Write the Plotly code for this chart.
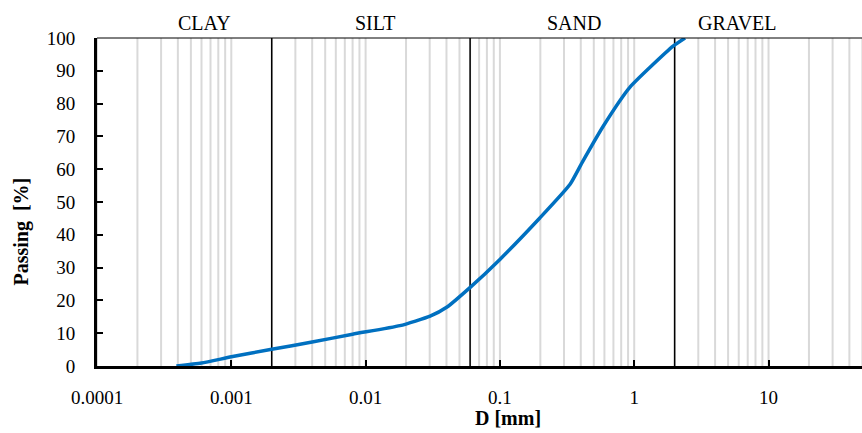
import plotly.graph_objects as go

# Grain size distribution data
diam_mm = [0.00039, 0.0006, 0.001, 0.002, 0.004, 0.008, 0.018, 0.0302, 0.0404,
           0.0598, 0.1, 0.199, 0.333, 0.409, 0.586, 0.93, 1.946, 2.39]
passing = [0.0, 0.9, 2.8, 5.1, 7.3, 9.7, 12.3, 15.2, 18.0,
           23.9, 32.5, 45.2, 55.4, 62.0, 73.0, 85.0, 97.5, 100.0]

tick_vals = [0.0001, 0.001, 0.01, 0.1, 1, 10]
tick_text = ["0.0001", "0.001", "0.01", "0.1", "1", "10"]
class_bounds = [0.002, 0.06, 2]
class_names = ["CLAY", "SILT", "SAND", "GRAVEL"]
class_label_pos = [0.103, 0.363, 0.623, 0.891]  # paper fractions

FONT = "Liberation Serif"

fig = go.Figure()

# minor gray gridlines at 1..9 x each decade
gx, gy = [], []
for e in range(-4, 2):
    for m in range(1, 10):
        v = m * 10.0 ** e
        if v <= 50:
            gx += [v, v, None]
            gy += [0, 100, None]
fig.add_trace(go.Scatter(x=gx, y=gy, mode="lines", line=dict(color="#D9D9D9", width=2),
                         hoverinfo="skip", showlegend=False))

# black class boundary lines
bx, by = [], []
for v in class_bounds:
    bx += [v, v, None]
    by += [0, 100, None]
fig.add_trace(go.Scatter(x=bx, y=by, mode="lines", line=dict(color="black", width=1.5),
                         hoverinfo="skip", showlegend=False))

# grading curve
fig.add_trace(go.Scatter(x=diam_mm, y=passing, mode="lines",
                         line=dict(color="#0070C0", width=3.5, shape="spline", smoothing=0.5),
                         showlegend=False))

for name, px in zip(class_names, class_label_pos):
    fig.add_annotation(x=px, xref="paper", y=1, yref="paper", yshift=15, yanchor="middle",
                       text=name, showarrow=False,
                       font=dict(family=FONT, size=20, color="black"))

fig.add_annotation(x=0.537, xref="paper", y=0, yref="paper", yshift=-52, yanchor="middle",
                   text="<b>D [mm]</b>", showarrow=False,
                   font=dict(family=FONT, size=20, color="black"))

fig.add_annotation(x=0, xref="paper", xshift=-75, xanchor="center", y=0.41, yref="paper",
                   yanchor="middle", textangle=-90, text="<b>Passing  [%]</b>",
                   showarrow=False, font=dict(family=FONT, size=20, color="black"))

# top border line
fig.add_shape(type="line", xref="paper", yref="paper", x0=0, x1=1, y0=1, y1=1,
              line=dict(color="black", width=1))

fig.update_layout(
    width=862, height=433,
    margin=dict(l=97, r=0, t=38, b=67),
    paper_bgcolor="white", plot_bgcolor="white",
    font=dict(family=FONT, size=19, color="black"),
    xaxis=dict(type="log", range=[-4, 1.696], tickvals=tick_vals, ticktext=tick_text,
               ticks="inside", ticklen=6, tickwidth=2, tickcolor="black",
               showline=True, linewidth=3, linecolor="black", showgrid=False,
               zeroline=False, ticklabelstandoff=12),
    yaxis=dict(range=[0, 100], dtick=10, ticks="inside", ticklen=6, tickwidth=2,
               tickcolor="black", showline=True, linewidth=3, linecolor="black",
               showgrid=False, zeroline=False, ticklabelstandoff=15),
)

fig.write_html("out.html")
